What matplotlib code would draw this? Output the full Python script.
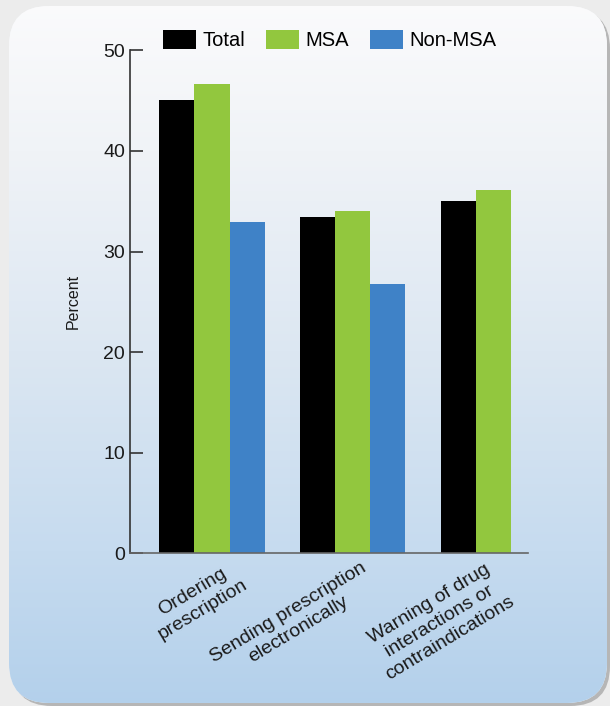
import numpy as np
import matplotlib
matplotlib.use("Agg")
import matplotlib.pyplot as plt
import matplotlib.transforms as mtransforms
from matplotlib.patches import FancyBboxPatch

plt.rcParams['font.family'] = ['Liberation Sans', 'DejaVu Sans']

# percent of physicians whose EHR supports each prescribing function
categories = ["Ordering\nprescription",
              "Sending prescription\nelectronically",
              "Warning of drug\ninteractions or\ncontraindications"]
total = [45.1, 33.4, 35.0]
msa = [46.7, 34.0, 36.1]
non_msa = [32.9, 26.8, np.nan]   # no Non-MSA estimate for the last item

series = [("Total", total, "#000000"),
          ("MSA", msa, "#92c73e"),
          ("Non-MSA", non_msa, "#3f82c7")]

W, H = 610, 706
fig = plt.figure(figsize=(W / 100, H / 100), dpi=100)
fig.patch.set_facecolor("#ececec")

# card background with rounded corners and a soft shadow
bg = fig.add_axes([0, 0, 1, 1], zorder=-5)
bg.set_xlim(0, W)
bg.set_ylim(H, 0)
bg.axis("off")

shadow = FancyBboxPatch((12, 9), 598, 697, boxstyle="round,pad=0,rounding_size=40",
                        fc="#8a8a8a", ec="none", alpha=0.55)
bg.add_patch(shadow)
card = FancyBboxPatch((9, 6), 598, 697, boxstyle="round,pad=0,rounding_size=40",
                      fc="#f4f6f9", ec="none")
bg.add_patch(card)

stops_y = [0, 150, 350, 550, 706]
stops_c = np.array([[0xfb, 0xfb, 0xfc], [0xf0, 0xf3, 0xf7], [0xdc, 0xe7, 0xf2],
                    [0xc6, 0xdb, 0xef], [0xb3, 0xd0, 0xeb]]) / 255.0
yy = np.arange(H)
grad = np.stack([np.interp(yy, stops_y, stops_c[:, k]) for k in range(3)], axis=1)
img = bg.imshow(grad[:, None, :], extent=(0, W, H, 0), aspect="auto", zorder=1)
img.set_clip_path(card)

# main bar chart
ax = fig.add_axes([0.213, 0.2161, 0.653, 0.7126])
ax.set_facecolor("none")

x = np.arange(len(categories))
width = 0.25
for i, (name, vals, color) in enumerate(series):
    ax.bar(x + (i - 1) * width, vals, width, color=color, label=name, linewidth=0)

ax.set_xlim(-0.584, 2.249)
ax.set_ylim(0, 50)
ax.set_yticks([0, 10, 20, 30, 40, 50])
ax.tick_params(axis="y", direction="in", length=9, width=1.2, color="#333333",
               labelsize=14, labelcolor="#1a1a1a", pad=3.5)
ax.set_ylabel("Percent", fontsize=11.5, color="#1a1a1a", labelpad=16)

ax.set_xticks(x)
ax.set_xticklabels(categories, rotation=31, ha="right", va="top",
                   rotation_mode="anchor", multialignment="center",
                   fontsize=14, color="#1a1a1a")
ax.tick_params(axis="x", length=0, pad=4)
# nudge the rotated labels so their ends sit under each group
for i, lbl in enumerate(ax.get_xticklabels()):
    shift = mtransforms.ScaledTranslation((20 - 12.5 * i) / 100, 0, fig.dpi_scale_trans)
    lbl.set_transform(lbl.get_transform() + shift)

for side in ("top", "right"):
    ax.spines[side].set_visible(False)
ax.spines["left"].set_color("#333333")
ax.spines["left"].set_linewidth(1.2)
ax.spines["bottom"].set_color("#666666")
ax.spines["bottom"].set_linewidth(1.2)

fig.legend(loc="center left", bbox_to_anchor=(163 / W, 1 - 40 / H), ncol=3,
           frameon=False, fontsize=14.5, handlelength=1.65, handleheight=1.08,
           handletextpad=0.3, columnspacing=1.05, borderpad=0, borderaxespad=0)

fig.savefig("out.png", dpi=100, facecolor=fig.get_facecolor())
